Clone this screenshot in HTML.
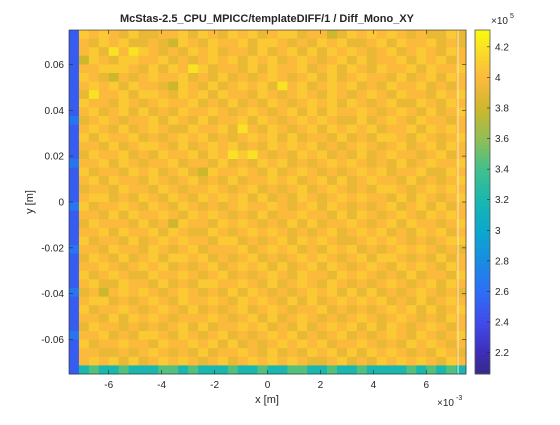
<!DOCTYPE html>
<html><head><meta charset="utf-8"><style>
html,body{margin:0;padding:0;background:#fff;}
svg text{font-family:"Liberation Sans",sans-serif;fill:#262626;}
</style></head><body>
<svg id="chart" width="560" height="420" viewBox="0 0 560 420" xmlns="http://www.w3.org/2000/svg">
<g id="cells"></g>
<g id="axes"></g>
</svg>
<script>
// Data: x range (m), y range (m), colour range (counts)
const xRange = [-0.0075, 0.0075];
const yRange = [-0.075, 0.075];
const cRange = [2.06e5, 4.31e5];
const xTicks = [-6, -4, -2, 0, 2, 4, 6];
const yTicks = [0.06, 0.04, 0.02, 0, -0.02, -0.04, -0.06];
const cTicks = [2.2, 2.4, 2.6, 2.8, 3, 3.2, 3.4, 3.6, 3.8, 4, 4.2];
// level code -> value (x1e5)
const levels = [2.5, 2.65, 3.2, 3.45, 3.65, 3.8, 3.92, 4.0, 4.08, 4.2];
// rows top to bottom, 40 columns each
const rows = [
"0878768667786876878678867756878787676686",
"0768786676587687786887676878667868778676",
"0786979876768786776867868687876786787687",
"0587688778676787868786787678686778687867",
"0778887686879867768687786786876877868778",
"0876576787786768676787678686787768678687",
"0787868776587686787869786787867687786767",
"0697786887687868776876787687678768776878",
"0877687678778676867687678786876786687687",
"0786786867687787678767868687787678768678",
"1678767786876867786876787876686787687767",
"0787686787668778697687678687878677868787",
"0868778676787867678786867768676887687678",
"0776867887686787867687878676787678678687",
"0687786768778687989767687867686787767867",
"1778687677867768676878676787876768678778",
"0867768786786587787686787676787867786687",
"0786877687678676867787867868678776867678",
"0677687768767787678676786787676887678787",
"0788676876876878786867687678787768687678",
"1867787687687676787787678687676786786867",
"0776868778768787676867787768687678768787",
"0687776867587768787676868677876786877678",
"0778687786876687678787676786787867687867",
"0867768678787768867678687876678787676788",
"1776877687678677786787867687867678787676",
"0687686786887867678676787876786887676867",
"0778767878676786787868678687678768787687",
"0867876687787678676787687768787676867768",
"0786687768676887787686787687676787678687",
"1675787876787676868767678786868676787676",
"0788676787687787687876868678787867686787",
"0867787678768676786787677867676787868678",
"0776868787677787678686787676787678767687",
"0687767676786867787867686787868687678767",
"1778676887687678676787867678676787687678",
"0867787768778786867678787867787676878767",
"0776676787676867787686768786868787676876",
"0787868678787678678787876678676878787687",
"0232232223323222322322332232232222323232"
];
const L=69, R=466, T=30, B=374;
const sx = v => L + (v - xRange[0]) / (xRange[1] - xRange[0]) * (R - L);
const sy = v => T + (yRange[1] - v) / (yRange[1] - yRange[0]) * (B - T);
const stops = [[2.06,[53,42,135]],[2.2,[62,45,185]],[2.4,[65,75,235]],[2.6,[45,110,245]],[2.8,[25,140,228]],[3.0,[10,168,205]],[3.2,[25,183,175]],[3.4,[65,192,140]],[3.6,[145,190,85]],[3.8,[205,183,45]],[4.0,[252,186,60]],[4.15,[250,215,45]],[4.31,[248,250,15]]];
function parula(v){v=v/1e5;if(v<=stops[0][0])return 'rgb(53,42,135)';for(let i=1;i<stops.length;i++){if(v<=stops[i][0]){const a=stops[i-1],b=stops[i];const f=(v-a[0])/(b[0]-a[0]);const c=a[1].map((q,k)=>Math.round(q+(b[1][k]-q)*f));return `rgb(${c[0]},${c[1]},${c[2]})`;}}return 'rgb(248,250,15)';}
const NS='http://www.w3.org/2000/svg';
const cells=document.getElementById('cells');
const nr=rows.length, nc=rows[0].length;
const dx=(xRange[1]-xRange[0])/nc, dy=(yRange[1]-yRange[0])/nr;
rows.forEach((row,r)=>{for(let c=0;c<nc;c++){const v=levels[+row[c]]*1e5;
 const x0=sx(xRange[0]+c*dx), x1=sx(xRange[0]+(c+1)*dx);
 const y0=sy(yRange[1]-r*dy), y1=sy(yRange[1]-(r+1)*dy);
 const el=document.createElementNS(NS,'rect');
 el.setAttribute('x',x0);el.setAttribute('y',y0);el.setAttribute('width',x1-x0+0.4);el.setAttribute('height',y1-y0+0.4);
 el.setAttribute('fill',parula(v));
 
 
 cells.appendChild(el);}});
const ax=document.getElementById('axes');
function add(tag,attrs,text){const e=document.createElementNS(NS,tag);for(const k in attrs)e.setAttribute(k,attrs[k]);if(text!==undefined)e.textContent=text;ax.appendChild(e);return e;}
let e;
e=add('line',{x1:sx(0.0072),x2:sx(0.0072),y1:T,y2:B,stroke:'#f4ead0','stroke-width':1});


e=add('rect',{x:L,y:T,width:R-L,height:B-T,fill:'none',stroke:'#262626','stroke-width':0.6});


xTicks.forEach(t=>{const x=sx(t*1e-3);add('line',{x1:x,x2:x,y1:B,y2:B-4,stroke:'#262626','stroke-width':0.6});add('line',{x1:x,x2:x,y1:T,y2:T+4,stroke:'#262626','stroke-width':0.6});
 e=add('text',{x:x,y:B+14,'font-size':10,'text-anchor':'middle'},String(t));
 
 });
yTicks.forEach(t=>{const y=sy(t);add('line',{x1:L,x2:L+4,y1:y,y2:y,stroke:'#262626','stroke-width':0.6});add('line',{x1:R,x2:R-4,y1:y,y2:y,stroke:'#262626','stroke-width':0.6});
 e=add('text',{x:L-5,y:y+3.5,'font-size':10,'text-anchor':'end'},String(t));
 
 });
e=add('text',{x:267,y:22,'font-size':11,'font-weight':'bold','text-anchor':'middle'},'McStas-2.5_CPU_MPICC/templateDIFF/1 / Diff_Mono_XY');


e=add('text',{x:267,y:403,'font-size':11,'text-anchor':'middle'},'x [m]');


e=add('text',{x:33,y:202,'font-size':11,'text-anchor':'middle',transform:'rotate(-90 33 202)'},'y [m]');


e=add('text',{x:437,y:406,'font-size':10},'×10');


add('text',{x:456,y:400,'font-size':7},'-3');
// colorbar
const CL=475,CR=490;
const cy=v=>T+(cRange[1]-v)/(cRange[1]-cRange[0])*(B-T);
for(let i=0;i<90;i++){const v0=cRange[0]+i*(cRange[1]-cRange[0])/90,v1=cRange[0]+(i+1)*(cRange[1]-cRange[0])/90;
 e=add('rect',{x:CL,y:cy(v1),width:CR-CL,height:cy(v0)-cy(v1)+0.5,fill:parula((v0+v1)/2)});
 
 }
e=add('rect',{x:CL,y:T,width:CR-CL,height:B-T,fill:'none',stroke:'#555','stroke-width':0.8});


cTicks.forEach(t=>{const y=cy(t*1e5);add('line',{x1:CR,x2:CR-3,y1:y,y2:y,stroke:'#262626','stroke-width':0.6});
 e=add('text',{x:CR+5,y:y+3.5,'font-size':10},String(t));
 
 });
e=add('text',{x:491,y:24,'font-size':10},'×10');


add('text',{x:510,y:18,'font-size':7},'5');
</script>
</body></html>
